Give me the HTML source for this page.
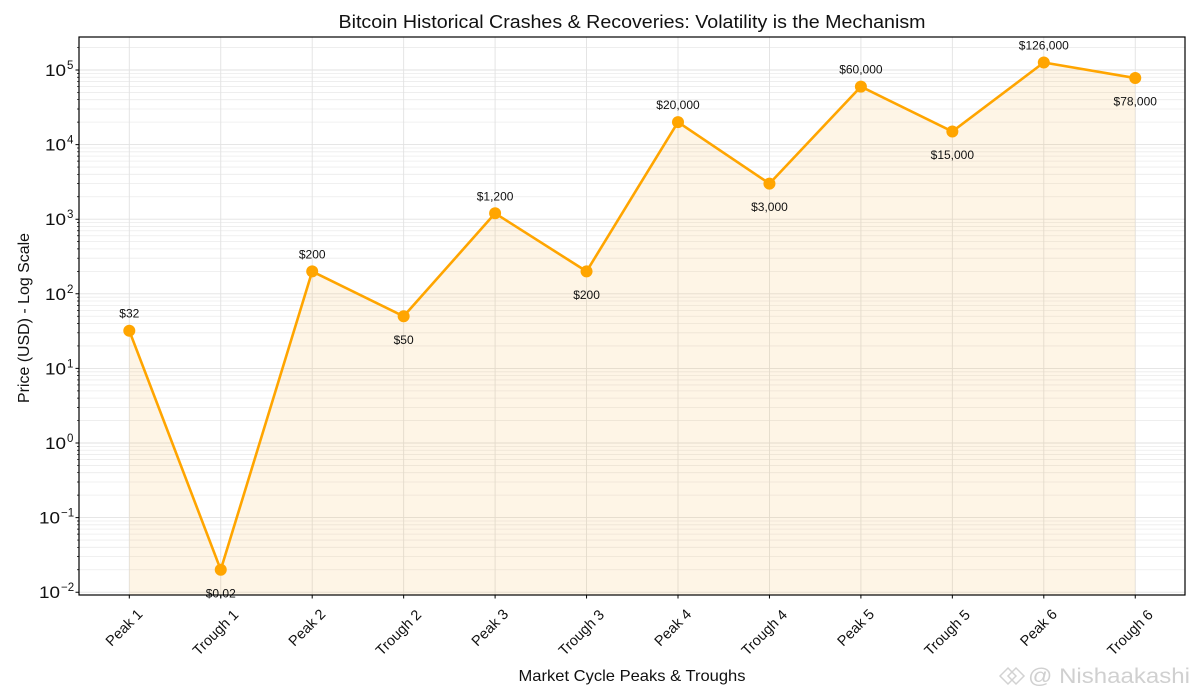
<!DOCTYPE html>
<html><head><meta charset="utf-8"><style>
html,body{margin:0;padding:0;background:#fff;}
svg{display:block;font-family:"Liberation Sans","DejaVu Sans",sans-serif;}
</style></head><body>
<svg width="1200" height="700" viewBox="0 0 1200 700" xmlns="http://www.w3.org/2000/svg">
<rect width="1200" height="700" fill="#fff"/>
<!-- minor grid -->
<path stroke="#ececec" stroke-width="0.8" fill="none" d="
M79 47.54H1185
M79 122.14H1185 M79 109.01H1185 M79 99.69H1185 M79 92.46H1185 M79 86.55H1185 M79 81.56H1185 M79 77.23H1185 M79 73.41H1185
M79 196.74H1185 M79 183.61H1185 M79 174.29H1185 M79 167.06H1185 M79 161.15H1185 M79 156.16H1185 M79 151.83H1185 M79 148.01H1185
M79 271.34H1185 M79 258.21H1185 M79 248.89H1185 M79 241.66H1185 M79 235.75H1185 M79 230.76H1185 M79 226.43H1185 M79 222.61H1185
M79 345.94H1185 M79 332.81H1185 M79 323.49H1185 M79 316.26H1185 M79 310.35H1185 M79 305.36H1185 M79 301.03H1185 M79 297.21H1185
M79 420.54H1185 M79 407.41H1185 M79 398.09H1185 M79 390.86H1185 M79 384.95H1185 M79 379.96H1185 M79 375.63H1185 M79 371.81H1185
M79 495.14H1185 M79 482.01H1185 M79 472.69H1185 M79 465.46H1185 M79 459.55H1185 M79 454.56H1185 M79 450.23H1185 M79 446.41H1185
M79 569.74H1185 M79 556.61H1185 M79 547.29H1185 M79 540.06H1185 M79 534.15H1185 M79 529.16H1185 M79 524.83H1185 M79 521.01H1185"/>
<!-- major grid -->
<path stroke="#e2e2e2" stroke-width="0.9" fill="none" d="
M79 70H1185 M79 144.6H1185 M79 219.2H1185 M79 293.8H1185 M79 368.4H1185 M79 443H1185 M79 517.6H1185 M79 592.2H1185
M129.3 37V595 M220.75 37V595 M312.2 37V595 M403.65 37V595 M495.1 37V595 M586.55 37V595 M678 37V595 M769.45 37V595 M860.9 37V595 M952.35 37V595 M1043.8 37V595 M1135.25 37V595"/>
<!-- fill -->
<polygon fill="rgb(250,180,60)" fill-opacity="0.13" points="129.3,595 129.3,330.7 220.75,569.8 312.2,271.4 403.65,316.3 495.1,213.3 586.55,271.4 678,122.1 769.45,183.6 860.9,86.6 952.35,131.5 1043.8,62.5 1135.25,78.05 1135.25,595"/>
<!-- line -->
<polyline fill="none" stroke="#FFA500" stroke-width="2.6" stroke-linejoin="round" points="129.3,330.7 220.75,569.8 312.2,271.4 403.65,316.3 495.1,213.3 586.55,271.4 678,122.1 769.45,183.6 860.9,86.6 952.35,131.5 1043.8,62.5 1135.25,78.05"/>
<g fill="#FFA500">
<circle cx="129.3" cy="330.7" r="6"/><circle cx="220.75" cy="569.8" r="6"/><circle cx="312.2" cy="271.4" r="6"/><circle cx="403.65" cy="316.3" r="6"/><circle cx="495.1" cy="213.3" r="6"/><circle cx="586.55" cy="271.4" r="6"/><circle cx="678" cy="122.1" r="6"/><circle cx="769.45" cy="183.6" r="6"/><circle cx="860.9" cy="86.6" r="6"/><circle cx="952.35" cy="131.5" r="6"/><circle cx="1043.8" cy="62.5" r="6"/><circle cx="1135.25" cy="78.05" r="6"/>
</g>
<!-- data labels -->
<g font-size="12" fill="#111" text-anchor="middle">
<text x="129.3" y="317.7">$32</text>
<text x="220.75" y="597.3">$0.02</text>
<text x="312.2" y="258.4">$200</text>
<text x="403.65" y="343.8">$50</text>
<text x="495.1" y="200.3">$1,200</text>
<text x="586.55" y="298.9">$200</text>
<text x="678" y="109.1">$20,000</text>
<text x="769.45" y="211.1">$3,000</text>
<text x="860.9" y="73.6">$60,000</text>
<text x="952.35" y="159">$15,000</text>
<text x="1043.8" y="49.5">$126,000</text>
<text x="1135.25" y="105.5">$78,000</text>
</g>
<!-- axes frame -->
<rect x="79" y="37" width="1106" height="558" fill="none" stroke="#000" stroke-width="1.2"/>
<!-- y ticks -->
<path stroke="#000" stroke-width="1" fill="none" d="
M79 70h-3.5 M79 144.6h-3.5 M79 219.2h-3.5 M79 293.8h-3.5 M79 368.4h-3.5 M79 443h-3.5 M79 517.6h-3.5 M79 592.2h-3.5"/>
<path stroke="#000" stroke-width="0.7" fill="none" d="
M79 47.54h-2
M79 122.14h-2 M79 109.01h-2 M79 99.69h-2 M79 92.46h-2 M79 86.55h-2 M79 81.56h-2 M79 77.23h-2 M79 73.41h-2
M79 196.74h-2 M79 183.61h-2 M79 174.29h-2 M79 167.06h-2 M79 161.15h-2 M79 156.16h-2 M79 151.83h-2 M79 148.01h-2
M79 271.34h-2 M79 258.21h-2 M79 248.89h-2 M79 241.66h-2 M79 235.75h-2 M79 230.76h-2 M79 226.43h-2 M79 222.61h-2
M79 345.94h-2 M79 332.81h-2 M79 323.49h-2 M79 316.26h-2 M79 310.35h-2 M79 305.36h-2 M79 301.03h-2 M79 297.21h-2
M79 420.54h-2 M79 407.41h-2 M79 398.09h-2 M79 390.86h-2 M79 384.95h-2 M79 379.96h-2 M79 375.63h-2 M79 371.81h-2
M79 495.14h-2 M79 482.01h-2 M79 472.69h-2 M79 465.46h-2 M79 459.55h-2 M79 454.56h-2 M79 450.23h-2 M79 446.41h-2
M79 569.74h-2 M79 556.61h-2 M79 547.29h-2 M79 540.06h-2 M79 534.15h-2 M79 529.16h-2 M79 524.83h-2 M79 521.01h-2"/>
<!-- x ticks -->
<path stroke="#000" stroke-width="1" fill="none" d="
M129.3 595v3.5 M220.75 595v3.5 M312.2 595v3.5 M403.65 595v3.5 M495.1 595v3.5 M586.55 595v3.5 M678 595v3.5 M769.45 595v3.5 M860.9 595v3.5 M952.35 595v3.5 M1043.8 595v3.5 M1135.25 595v3.5"/>
<!-- y tick labels -->
<g font-size="17" fill="#111">
<text x="45" y="76" textLength="21" lengthAdjust="spacingAndGlyphs">10</text><text x="67" y="69" font-size="11.5">5</text>
<text x="45" y="150.6" textLength="21" lengthAdjust="spacingAndGlyphs">10</text><text x="67" y="143.6" font-size="11.5">4</text>
<text x="45" y="225.2" textLength="21" lengthAdjust="spacingAndGlyphs">10</text><text x="67" y="218.2" font-size="11.5">3</text>
<text x="45" y="299.8" textLength="21" lengthAdjust="spacingAndGlyphs">10</text><text x="67" y="292.8" font-size="11.5">2</text>
<text x="45" y="374.4" textLength="21" lengthAdjust="spacingAndGlyphs">10</text><text x="67" y="367.4" font-size="11.5">1</text>
<text x="45" y="449" textLength="21" lengthAdjust="spacingAndGlyphs">10</text><text x="67" y="442" font-size="11.5">0</text>
<text x="39" y="523.6" textLength="21" lengthAdjust="spacingAndGlyphs">10</text><text x="61" y="516.6" font-size="11.5">−1</text>
<text x="39" y="598.2" textLength="21" lengthAdjust="spacingAndGlyphs">10</text><text x="61" y="591.2" font-size="11.5">−2</text>
</g>
<!-- x tick labels -->
<g font-size="14.5" fill="#111" text-anchor="middle">
<text transform="translate(127.5,631) rotate(-45)">Peak 1</text>
<text transform="translate(219,636) rotate(-45)">Trough 1</text>
<text transform="translate(310.4,631) rotate(-45)">Peak 2</text>
<text transform="translate(401.9,636) rotate(-45)">Trough 2</text>
<text transform="translate(493.3,631) rotate(-45)">Peak 3</text>
<text transform="translate(584.8,636) rotate(-45)">Trough 3</text>
<text transform="translate(676.2,631) rotate(-45)">Peak 4</text>
<text transform="translate(767.7,636) rotate(-45)">Trough 4</text>
<text transform="translate(859.1,631) rotate(-45)">Peak 5</text>
<text transform="translate(950.6,636) rotate(-45)">Trough 5</text>
<text transform="translate(1042,631) rotate(-45)">Peak 6</text>
<text transform="translate(1133.5,636) rotate(-45)">Trough 6</text>
</g>
<!-- axis labels -->
<text x="632" y="681" font-size="16" fill="#111" text-anchor="middle" textLength="227" lengthAdjust="spacingAndGlyphs">Market Cycle Peaks &amp; Troughs</text>
<text transform="translate(29,318) rotate(-90)" font-size="16" fill="#111" text-anchor="middle" textLength="170" lengthAdjust="spacingAndGlyphs">Price (USD) - Log Scale</text>
<!-- title -->
<text x="632" y="28" font-size="18" fill="#111" text-anchor="middle" textLength="587" lengthAdjust="spacingAndGlyphs">Bitcoin Historical Crashes &amp; Recoveries: Volatility is the Mechanism</text>
<!-- watermark -->
<g fill="none" stroke="#d2d2d2" stroke-width="1.5">
<path d="M1000 676 l8 -8 l8 8 l-8 8 z"/>
<path d="M1008 676 l8 -8 l8 8 l-8 8 z"/>
</g>
<text x="1028" y="683" font-size="21" fill="#d0d0d0" textLength="162" lengthAdjust="spacingAndGlyphs">@ Nishaakashi</text>
</svg>
</body></html>
